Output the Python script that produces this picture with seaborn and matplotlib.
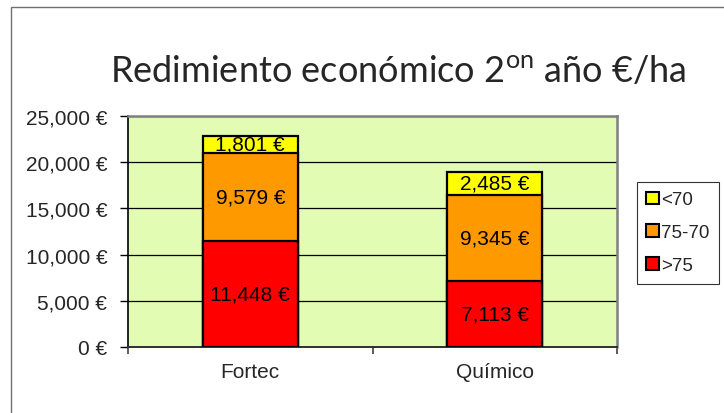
import numpy as np
import matplotlib
matplotlib.use("Agg")
import matplotlib.pyplot as plt
import matplotlib.patches as mpatches
import seaborn as sns
import pandas as pd

categories = ["Fortec", "Químico"]
series_names = [">75", "75-70", "<70"]
val_gt75 = [11448, 7113]
val_75_70 = [9579, 9345]
val_lt70 = [1801, 2485]
colors = ["#FF0000", "#FF9900", "#FFFF00"]
yticks = [0, 5000, 10000, 15000, 20000, 25000]

sns.set_theme(style="white")
plt.rcParams["font.family"] = ["Liberation Sans", "DejaVu Sans"]
plt.rcParams["mathtext.fontset"] = "custom"
plt.rcParams["mathtext.rm"] = "Lato"

FS = 15

fig = plt.figure(figsize=(7.24, 4.14), dpi=100)
ax = fig.add_axes([128/724, 1-348/414, (617-128)/724, (348-117)/414])
ax.set_facecolor("#E3FCB4")

layers = [val_gt75, val_75_70, val_lt70]
cum = np.cumsum(np.array(layers), axis=0)

for i in range(len(layers) - 1, -1, -1):
    df = pd.DataFrame({"cat": categories, "val": cum[i]})
    sns.barplot(data=df, x="cat", y="val", color=colors[i], width=0.39,
                edgecolor="black", linewidth=1.6, saturation=1, ax=ax, zorder=3)

for j, cat in enumerate(categories):
    bottom = 0
    for i, layer in enumerate(layers):
        v = layer[j]
        ax.text(j, bottom + v / 2, f"{v:,} €", ha="center", va="center",
                fontsize=FS, color="black", zorder=5)
        bottom += v

ax.set_ylim(0, 25000)
ax.set_xlim(-0.5, 1.5)
ax.set_yticks(yticks)
ax.set_yticklabels([f"{t:,} €" for t in yticks], fontsize=FS)
ax.yaxis.grid(True, color="black", linewidth=0.9, zorder=0)
ax.set_axisbelow(True)
ax.set_xlabel("")
ax.set_ylabel("")
ax.tick_params(axis="y", length=6, width=1, color="black", pad=9, left=True, direction="out")
ax.tick_params(axis="x", length=0, pad=11, labelsize=FS)
ax.set_xticks([-0.5, 0.5, 1.5], minor=True)
ax.tick_params(axis="x", which="minor", length=5, width=1.2, color="#404040", bottom=True, direction="out")
for t in ax.get_xticklabels():
    t.set_fontsize(FS)

ax.spines["left"].set_color("black")
ax.spines["bottom"].set_color("#303030")
ax.spines["left"].set_linewidth(1.2)
ax.spines["bottom"].set_linewidth(1.4)
ax.spines["top"].set_color("#808080")
ax.spines["right"].set_color("#808080")
ax.spines["top"].set_linewidth(1.8)
ax.spines["right"].set_linewidth(1.8)

fig.text(0.5 * (113 + 683) / 724, 1 - 72 / 414,
         "Redimiento económico 2$^{\\mathrm{on}}$ año €/ha",
         ha="center", va="center", fontsize=26, family="Lato")

handles = [mpatches.Patch(facecolor=colors[i], edgecolor="black", linewidth=1.5,
                          label=series_names[i]) for i in range(len(colors) - 1, -1, -1)]
leg = fig.legend(handles=handles, loc="upper left",
                 bbox_to_anchor=(637/724, 1 - 183/414), fontsize=13.5,
                 frameon=True, fancybox=False, handlelength=0.65, handleheight=0.65,
                 handletextpad=0.15, borderpad=0.5, labelspacing=0.85, borderaxespad=0)
leg.get_frame().set_edgecolor("black")
leg.get_frame().set_linewidth(0.8)

border = mpatches.Rectangle((11/724, -0.1), 1.2, 1.1 - 8/414, transform=fig.transFigure,
                            fill=False, edgecolor="#707070", linewidth=1.0, zorder=0)
fig.patches.append(border)

fig.savefig("out.png", dpi=100, facecolor="white")
